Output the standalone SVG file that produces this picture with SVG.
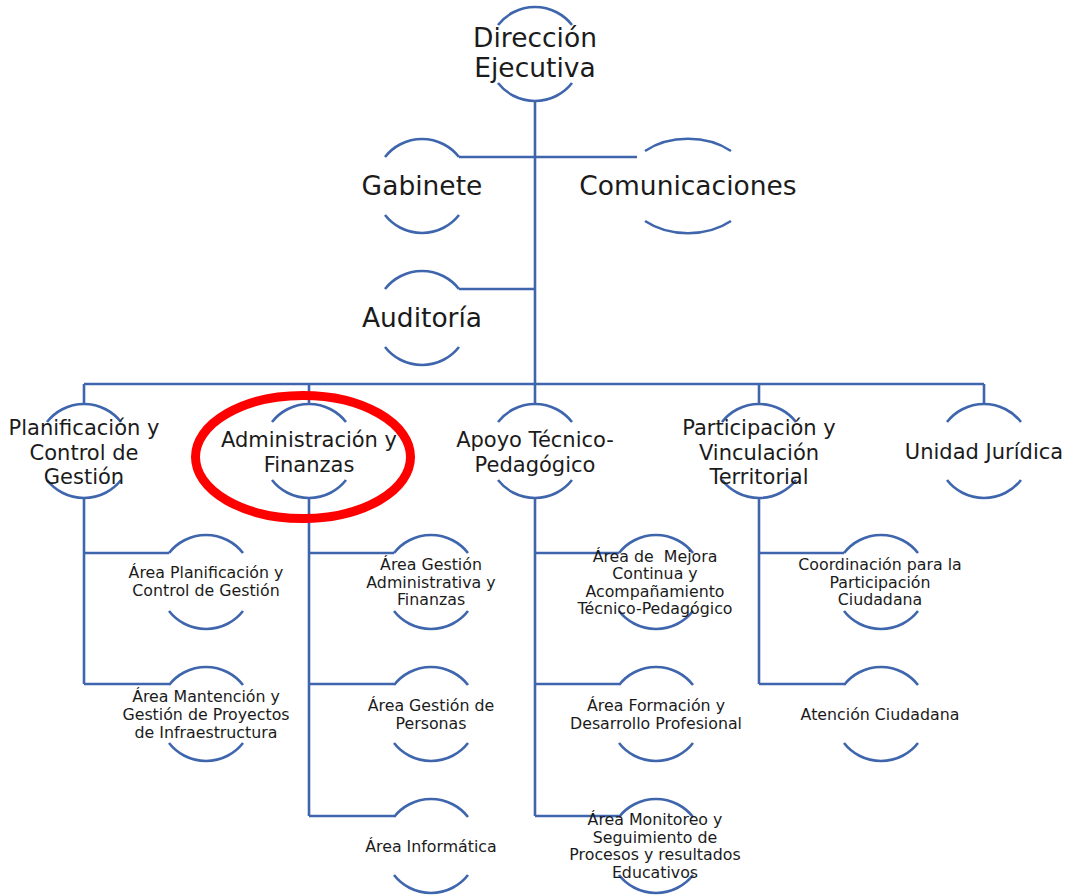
<svg xmlns="http://www.w3.org/2000/svg" width="1073" height="896" viewBox="0 0 1073 896">
<style>
.arc{fill:none;stroke:#3F66AD;stroke-width:2.6}
.conn{fill:none;stroke:#3F66AD;stroke-width:2.6}
text{font-family:"DejaVu Sans",sans-serif;fill:#1b1b1b;text-anchor:middle}
.t1{font-size:26.5px}
.t2{font-size:21px}
.t3{font-size:15.8px}
</style>
<rect width="1073" height="896" fill="#ffffff"/>
<g id="connectors">
<path class="conn" d="M535,101 V404"/>
<path class="conn" d="M459,157 H637"/>
<path class="conn" d="M459,289 H535"/>
<path class="conn" d="M84,384 H984"/>
<path class="conn" d="M84,384 V404 M309,384 V404 M759,384 V404 M984,384 V404"/>
<path class="conn" d="M84,498 V684 M84,553 H169 M84,684 H169"/>
<path class="conn" d="M309,498 V816 M309,553 H394 M309,684 H394 M309,816 H394"/>
<path class="conn" d="M535,498 V816 M535,553 H619 M535,684 H619 M535,816 H619"/>
<path class="conn" d="M759,498 V684 M759,553 H844 M759,684 H844"/>
</g>
<g id="n-direccion">
<path class="arc" d="M498,25 A47,47 0 0 1 572,25 M498,83 A47,47 0 0 0 572,83"/>
<text class="t1" x="535" y="47">Dirección</text>
<text class="t1" x="535" y="77">Ejecutiva</text>
</g>
<g id="n-gabinete">
<path class="arc" d="M385,157 A47,47 0 0 1 459,157 M385,215 A47,47 0 0 0 459,215"/>
<text class="t1" x="422" y="195">Gabinete</text>
</g>
<g id="n-comunicaciones">
<path class="arc" d="M645,151 A64,47 0 0 1 731,151 M645,221 A64,47 0 0 0 731,221"/>
<text class="t1" x="688" y="195">Comunicaciones</text>
</g>
<g id="n-auditoria">
<path class="arc" d="M385,289 A47,47 0 0 1 459,289 M385,347 A47,47 0 0 0 459,347"/>
<text class="t1" x="422" y="327">Auditoría</text>
</g>
<g id="n-planificacion">
<path class="arc" d="M47,422 A47,47 0 0 1 121,422 M47,480 A47,47 0 0 0 121,480"/>
<text class="t2" x="84" y="435">Planificación y</text>
<text class="t2" x="84" y="459.5">Control de</text>
<text class="t2" x="84" y="484">Gestión</text>
</g>
<g id="n-administracion">
<path class="arc" d="M272,422 A47,47 0 0 1 346,422 M272,480 A47,47 0 0 0 346,480"/>
<text class="t2" x="309" y="447">Administración y</text>
<text class="t2" x="309" y="471.5">Finanzas</text>
</g>
<g id="n-apoyo">
<path class="arc" d="M498,422 A47,47 0 0 1 572,422 M498,480 A47,47 0 0 0 572,480"/>
<text class="t2" x="535" y="447">Apoyo Técnico-</text>
<text class="t2" x="535" y="471.5">Pedagógico</text>
</g>
<g id="n-participacion">
<path class="arc" d="M722,422 A47,47 0 0 1 796,422 M722,480 A47,47 0 0 0 796,480"/>
<text class="t2" x="759" y="435">Participación y</text>
<text class="t2" x="759" y="459.5">Vinculación</text>
<text class="t2" x="759" y="484">Territorial</text>
</g>
<g id="n-juridica">
<path class="arc" d="M947,422 A47,47 0 0 1 1021,422 M947,480 A47,47 0 0 0 1021,480"/>
<text class="t2" x="984" y="459">Unidad Jurídica</text>
</g>
<g id="n-area-planificacion">
<path class="arc" d="M169,553 A47,47 0 0 1 243,553 M169,611 A47,47 0 0 0 243,611"/>
<text class="t3" x="206" y="578">Área Planificación y</text>
<text class="t3" x="206" y="596">Control de Gestión</text>
</g>
<g id="n-area-mantencion">
<path class="arc" d="M169,685 A47,47 0 0 1 243,685 M169,743 A47,47 0 0 0 243,743"/>
<text class="t3" x="206" y="701.5">Área Mantención y</text>
<text class="t3" x="206" y="719.5">Gestión de Proyectos</text>
<text class="t3" x="206" y="737.5">de Infraestructura</text>
</g>
<g id="n-area-gestion-adm">
<path class="arc" d="M394,553 A47,47 0 0 1 468,553 M394,611 A47,47 0 0 0 468,611"/>
<text class="t3" x="431" y="570">Área Gestión</text>
<text class="t3" x="431" y="587.5">Administrativa y</text>
<text class="t3" x="431" y="605">Finanzas</text>
</g>
<g id="n-area-personas">
<path class="arc" d="M394,685 A47,47 0 0 1 468,685 M394,743 A47,47 0 0 0 468,743"/>
<text class="t3" x="431" y="710.5">Área Gestión de</text>
<text class="t3" x="431" y="728.5">Personas</text>
</g>
<g id="n-area-informatica">
<path class="arc" d="M394,817 A47,47 0 0 1 468,817 M394,875 A47,47 0 0 0 468,875"/>
<text class="t3" x="431" y="851.5">Área Informática</text>
</g>
<g id="n-area-mejora">
<path class="arc" d="M619,553 A47,47 0 0 1 693,553 M619,611 A47,47 0 0 0 693,611"/>
<text class="t3" x="655" y="561.5" xml:space="preserve">Área de  Mejora</text>
<text class="t3" x="655" y="579">Continua y</text>
<text class="t3" x="655" y="596.5">Acompañamiento</text>
<text class="t3" x="655" y="614">Técnico-Pedagógico</text>
</g>
<g id="n-area-formacion">
<path class="arc" d="M619,685 A47,47 0 0 1 693,685 M619,743 A47,47 0 0 0 693,743"/>
<text class="t3" x="656" y="710.5">Área Formación y</text>
<text class="t3" x="656" y="728.5">Desarrollo Profesional</text>
</g>
<g id="n-area-monitoreo">
<path class="arc" d="M619,817 A47,47 0 0 1 693,817 M619,875 A47,47 0 0 0 693,875"/>
<text class="t3" x="655" y="825">Área Monitoreo y</text>
<text class="t3" x="655" y="842.5">Seguimiento de</text>
<text class="t3" x="655" y="860">Procesos y resultados</text>
<text class="t3" x="655" y="877.5">Educativos</text>
</g>
<g id="n-coordinacion">
<path class="arc" d="M844,553 A47,47 0 0 1 918,553 M844,611 A47,47 0 0 0 918,611"/>
<text class="t3" x="880" y="570">Coordinación para la</text>
<text class="t3" x="880" y="587.5">Participación</text>
<text class="t3" x="880" y="605">Ciudadana</text>
</g>
<g id="n-atencion">
<path class="arc" d="M844,685 A47,47 0 0 1 918,685 M844,743 A47,47 0 0 0 918,743"/>
<text class="t3" x="880" y="719.5">Atención Ciudadana</text>
</g>
<g id="highlight">
<ellipse cx="303" cy="457" rx="107.5" ry="61.5" fill="none" stroke="#FF0000" stroke-width="9"/>
</g>
</svg>
